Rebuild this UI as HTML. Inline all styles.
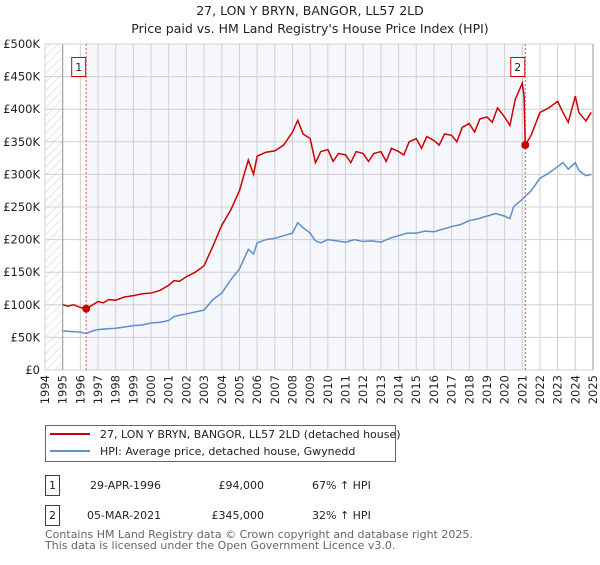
<!DOCTYPE html>
<html><head><meta charset="utf-8"><style>
body{margin:0;background:#fff;font-family:"Liberation Sans","DejaVu Sans",sans-serif;}
svg text{font-family:"DejaVu Sans","Liberation Sans",sans-serif;}
</style></head><body>
<svg id="chart" width="600" height="560" xmlns="http://www.w3.org/2000/svg">
<defs><pattern id="hatch" width="6" height="6" patternUnits="userSpaceOnUse" patternTransform="rotate(45)"><line x1="0" y1="0" x2="0" y2="6" stroke="#ccc" stroke-width="1"/></pattern></defs>
<text x="310" y="15" text-anchor="middle" font-size="12.5" fill="#222">27, LON Y BRYN, BANGOR, LL57 2LD</text>
<text x="310" y="33" text-anchor="middle" font-size="12.5" fill="#222">Price paid vs. HM Land Registry's House Price Index (HPI)</text>
<g id="plot"></g>
<g>
<rect x="45.5" y="425.5" width="350" height="36" fill="#fff" stroke="#666"/>
<line x1="50" y1="434" x2="90" y2="434" stroke="#cc0000" stroke-width="2"/>
<text x="100" y="438" font-size="11" fill="#222">27, LON Y BRYN, BANGOR, LL57 2LD (detached house)</text>
<line x1="50" y1="451" x2="90" y2="451" stroke="#5b8fd0" stroke-width="2"/>
<text x="100" y="455" font-size="11" fill="#222">HPI: Average price, detached house, Gwynedd</text>
</g>
<g font-size="11" fill="#222">
<rect x="45.5" y="475.5" width="14" height="20" fill="#fff" stroke="#cc0000"/>
<text x="52.5" y="489" text-anchor="middle">1</text>
<text x="90" y="489">29-APR-1996</text><text x="264" y="489" text-anchor="end">£94,000</text><text x="312" y="489">67% ↑ HPI</text>
<rect x="45.5" y="505.5" width="14" height="20" fill="#fff" stroke="#cc0000"/>
<text x="52.5" y="519" text-anchor="middle">2</text>
<text x="87" y="519">05-MAR-2021</text><text x="264" y="519" text-anchor="end">£345,000</text><text x="312" y="519">32% ↑ HPI</text>
</g>
<text x="45" y="538" font-size="11" fill="#666">Contains HM Land Registry data © Crown copyright and database right 2025.</text>
<text x="45" y="549" font-size="11" fill="#666">This data is licensed under the Open Government Licence v3.0.</text>
</svg>
<script>
const yearTicks=[1994,1995,1996,1997,1998,1999,2000,2001,2002,2003,2004,2005,2006,2007,2008,2009,2010,2011,2012,2013,2014,2015,2016,2017,2018,2019,2020,2021,2022,2023,2024,2025];
const priceTicks=[0,50,100,150,200,250,300,350,400,450,500];
const priceLabels=["£0","£50K","£100K","£150K","£200K","£250K","£300K","£350K","£400K","£450K","£500K"];
const hpiDates=[1995,1995.5,1996,1996.33,1996.7,1997,1997.5,1998,1998.5,1999,1999.5,2000,2000.5,2001,2001.3,2001.6,2002,2002.5,2003,2003.5,2004,2004.5,2005,2005.5,2005.8,2006,2006.5,2007,2007.5,2008,2008.3,2008.6,2009,2009.3,2009.6,2010,2010.5,2011,2011.5,2012,2012.5,2013,2013.5,2014,2014.5,2015,2015.5,2016,2016.5,2017,2017.5,2018,2018.5,2019,2019.5,2020,2020.3,2020.5,2021,2021.5,2022,2022.5,2023,2023.3,2023.6,2024,2024.2,2024.6,2024.9];
const hpiValues=[60,59,58,56,60,62,63,64,66,68,69,72,73,76,82,84,86,89,92,108,118,138,155,185,178,195,200,202,206,210,226,218,210,198,195,200,198,196,200,197,198,196,202,206,210,210,213,212,216,220,223,229,232,236,240,236,232,250,262,275,294,302,312,318,308,318,306,298,300];
const priceDates=[1995,1995.3,1995.6,1996,1996.33,1996.7,1997,1997.3,1997.6,1998,1998.5,1999,1999.5,2000,2000.5,2001,2001.3,2001.6,2002,2002.5,2003,2003.5,2004,2004.5,2005,2005.5,2005.8,2006,2006.5,2007,2007.5,2008,2008.3,2008.6,2009,2009.3,2009.6,2010,2010.3,2010.6,2011,2011.3,2011.6,2012,2012.3,2012.6,2013,2013.3,2013.6,2014,2014.3,2014.6,2015,2015.3,2015.6,2016,2016.3,2016.6,2017,2017.3,2017.6,2018,2018.3,2018.6,2019,2019.3,2019.6,2020,2020.3,2020.6,2021,2021.1,2021.17,2021.5,2022,2022.5,2023,2023.3,2023.6,2024,2024.2,2024.6,2024.9];
const priceValues=[100,98,100,96,94,100,105,103,108,107,112,114,117,118,122,130,137,136,143,150,160,190,222,245,275,322,300,328,334,336,345,365,383,362,355,318,335,338,320,332,330,318,335,332,320,332,335,320,340,335,330,350,355,340,358,352,345,362,360,350,372,378,365,385,388,380,402,388,375,415,440,420,345,360,395,402,412,395,380,420,395,382,395];
const NS="http://www.w3.org/2000/svg";
const L=45,R=593,T=44,B=370;
const xs=d=>L+(d-1994)*(R-L)/31;
const ys=v=>B-v*(B-T)/500;
const plot=document.getElementById('plot');
function mk(tag,attrs,parent){const e=document.createElementNS(NS,tag);for(const k in attrs)e.setAttribute(k,attrs[k]);(parent||plot).appendChild(e);return e;}
const bg=mk('rect',{x:L,y:T,width:R-L,height:B-T,fill:'#fff'});


const hatch=mk('rect',{x:L,y:T,width:xs(1995)-L,height:B-T,fill:'url(#hatch)'});


const shade=mk('rect',{x:xs(1996.33),y:T,width:xs(2021.17)-xs(1996.33),height:B-T,fill:'#f5f7fd'});


yearTicks.forEach(y=>{const g=mk('line',{x1:xs(y),x2:xs(y),y1:T,y2:B,stroke:'#d0d0d0','stroke-width':1});


const t=mk('text',{x:0,y:0,'font-size':11.5,fill:'#222','text-anchor':'end',transform:`translate(${xs(y)+4},${B+5}) rotate(-90)`});t.textContent=y;

});
priceTicks.forEach((v,i)=>{const g=mk('line',{x1:L,x2:R,y1:ys(v),y2:ys(v),stroke:'#d0d0d0','stroke-width':1});


const t=mk('text',{x:L-5,y:ys(v)+4,'font-size':11.5,fill:'#222','text-anchor':'end'});t.textContent=priceLabels[i];

});
const ax=mk('line',{x1:xs(1995),x2:xs(1995),y1:T,y2:B,stroke:'#999'});


const rax=mk('line',{x1:R,x2:R,y1:T,y2:B,stroke:'#999'});


[1996.33,2021.17].forEach((d,i)=>{const l=mk('line',{x1:xs(d),x2:xs(d),y1:T,y2:B,stroke:'#e05555','stroke-dasharray':'2,2'});

});
const hp=mk('polyline',{points:hpiDates.map((d,i)=>xs(d)+','+ys(hpiValues[i])).join(' '),fill:'none',stroke:'#5b8fd0','stroke-width':1.5});


const pp=mk('polyline',{points:priceDates.map((d,i)=>xs(d)+','+ys(priceValues[i])).join(' '),fill:'none',stroke:'#cc0000','stroke-width':1.5});


[[1996.33,94,'1'],[2021.17,345,'2']].forEach(s=>{const c=mk('circle',{cx:xs(s[0]),cy:ys(s[1]),r:4,fill:'#cc0000'});


const bx=mk('rect',{x:xs(s[0])-14.5,y:57.5,width:14,height:19,fill:'#fff',stroke:'#cc0000'});


const t=mk('text',{x:xs(s[0])-7.5,y:71,'font-size':11,fill:'#222','text-anchor':'middle'});t.textContent=s[2];

});
</script>
</body></html>
